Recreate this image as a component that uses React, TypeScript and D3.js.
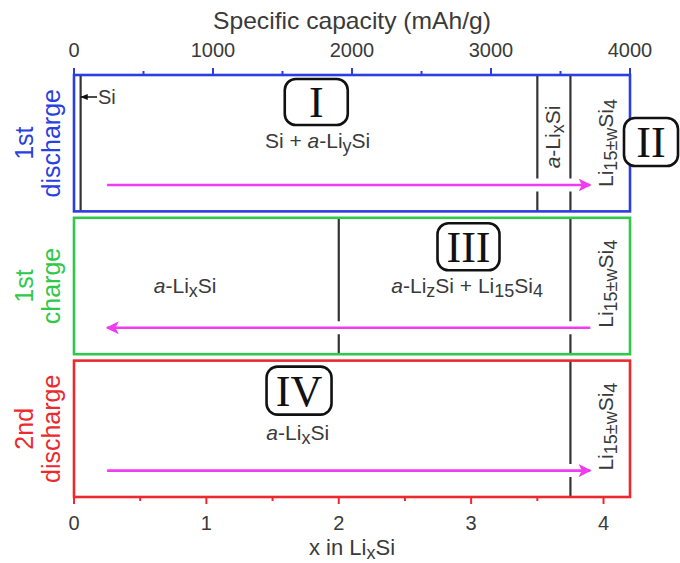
import React from "react";
import * as d3 from "d3";

// chart data
const capacityTicks = [0, 1000, 2000, 3000, 4000];
const capacityMinorTicks = [500, 1500, 2500, 3500];
const xTicks = [0, 1, 2, 3, 4];
const xMinorTicks = [0.5, 1.5, 2.5, 3.5];
const stepNames = [["1st", "discharge"], ["1st", "charge"], ["2nd", "discharge"]];
const stepColors = ["#2b3fe0", "#2fc84a", "#ec2a2e"];
// phase boundaries (x in LixSi) for each step
const boundaries = [[0.05, 3.5, 3.75], [2, 3.75], [3.75]];
// arrow from / to (x in LixSi)
const arrows = [[0.25, 3.9], [3.9, 0.25], [0.25, 3.9]];

const width = 680;
const height = 563;
const ink = "#3a3a3a";
const magenta = "#f03cf0";
const sans = "'Liberation Sans', Arial, Helvetica, sans-serif";
const serif = "'Liberation Serif', 'Times New Roman', serif";

const x = d3.scaleLinear().domain([0, 4.2]).range([74, 630]);
const cap = d3.scaleLinear().domain([0, 4000]).range([74, 630]);
const y = d3.scaleBand<number>().domain([0, 1, 2]).range([75, 497]).paddingInner(0.045);

function RomanBox({ cx, cy, w, h, label }) {
  return (
    <g>
      <rect x={cx - w / 2} y={cy - h / 2} width={w} height={h} rx={11} fill="white" stroke="#111" strokeWidth={2.6} />
      <text x={cx} y={cy + 15} textAnchor="middle" fontFamily={serif} fontSize={44} fill="#111">
        {label}
      </text>
    </g>
  );
}

function Li15({ cx, cy }) {
  return (
    <text transform={`translate(${cx},${cy}) rotate(-90)`} textAnchor="middle" dy="0.35em" fontFamily={sans} fontSize={21} fill={ink}>
      Li<tspan fontSize={18} dy={4}>15±w</tspan><tspan dy={-4}>Si</tspan><tspan fontSize={18} dy={4}>4</tspan>
    </text>
  );
}

export default function App() {
  const top = (i) => y(i) as number;
  const bw = y.bandwidth();

  return (
    <svg width={width} height={height} style={{ position: "absolute", left: 0, top: 0, background: "white" }}>
      <defs>
        <marker id="head" viewBox="0 0 10 10" refX="9" refY="5" markerWidth="5" markerHeight="5" orient="auto-start-reverse">
          <path d="M0,0 L10,5 L0,10 L2.5,5 Z" fill={magenta} />
        </marker>
        <marker id="headk" viewBox="0 0 10 10" refX="9" refY="5" markerWidth="5" markerHeight="5" orient="auto">
          <path d="M0,1 L10,5 L0,9 Z" fill="#111" />
        </marker>
      </defs>

      {/* top axis */}
      <text x={(cap(0) + cap(4000)) / 2} y={29} textAnchor="middle" fontFamily={sans} fontSize={24} fill={ink}
        textLength={278} lengthAdjust="spacingAndGlyphs">
        Specific capacity (mAh/g)
      </text>
      {capacityTicks.map((t) => (
        <g key={t}>
          <line x1={cap(t)} x2={cap(t)} y1={top(0)} y2={top(0) - 7} stroke={stepColors[0]} strokeWidth={2} />
          <text x={cap(t)} y={57} textAnchor="middle" fontFamily={sans} fontSize={20} fill={ink}>{t}</text>
        </g>
      ))}
      {capacityMinorTicks.map((t) => (
        <line key={t} x1={cap(t)} x2={cap(t)} y1={top(0)} y2={top(0) - 4} stroke={stepColors[0]} strokeWidth={2} />
      ))}

      {/* bottom axis */}
      {xTicks.map((t) => (
        <g key={t}>
          <line x1={x(t)} x2={x(t)} y1={top(2) + bw} y2={top(2) + bw + 7} stroke={stepColors[2]} strokeWidth={2} />
          <text x={x(t)} y={530} textAnchor="middle" fontFamily={sans} fontSize={20} fill={ink}>{t}</text>
        </g>
      ))}
      {xMinorTicks.map((t) => (
        <line key={t} x1={x(t)} x2={x(t)} y1={top(2) + bw} y2={top(2) + bw + 4} stroke={stepColors[2]} strokeWidth={2} />
      ))}
      <text x={(x(0) + x(4.2)) / 2} y={555} textAnchor="middle" fontFamily={sans} fontSize={22} fill={ink}>
        x in Li<tspan fontSize={18} dy={4}>x</tspan><tspan dy={-4}>Si</tspan>
      </text>

      {stepNames.map((names, i) => {
        const t = top(i);
        const cy = t + bw / 2;
        return (
          <g key={i}>
            {/* step label */}
            <text transform={`translate(24,${cy}) rotate(-90)`} textAnchor="middle" dy="0.35em" fontFamily={sans} fontSize={25} fill={stepColors[i]}>
              {names[0]}
            </text>
            <text transform={`translate(51,${cy}) rotate(-90)`} textAnchor="middle" dy="0.35em" fontFamily={sans} fontSize={25} fill={stepColors[i]}>
              {names[1]}
            </text>
            {/* phase boundaries */}
            {boundaries[i].map((b) => (
              <line key={b} x1={x(b)} x2={x(b)} y1={t} y2={t + bw} stroke="#333" strokeWidth={2.2} />
            ))}
            {/* arrow with white gap */}
            <line x1={x(Math.min(...arrows[i])) + 12} x2={x(Math.max(...arrows[i])) - 12} y1={t + 110} y2={t + 110} stroke="white" strokeWidth={13} />
            <line x1={x(arrows[i][0])} x2={x(arrows[i][1])} y1={t + 110} y2={t + 110} stroke={magenta} strokeWidth={2.6} markerEnd="url(#head)" />
            <rect x={x(0)} y={t} width={x(4.2) - x(0)} height={bw} fill="none" stroke={stepColors[i]} strokeWidth={2.6} />
            <Li15 cx={606} cy={t + (i === 0 ? 68 : 66)} />
          </g>
        );
      })}

      {/* step 1 annotations */}
      <line x1={97} x2={81} y1={top(0) + 22} y2={top(0) + 22} stroke="#111" strokeWidth={1.5} markerEnd="url(#headk)" />
      <text x={98} y={top(0) + 29} fontFamily={sans} fontSize={20} fill={ink}>Si</text>
      <RomanBox cx={x(1.83)} cy={top(0) + 27} w={63} h={46} label="I" />
      <text x={x(1.84)} y={top(0) + 73} textAnchor="middle" fontFamily={sans} fontSize={21} fill={ink}>
        Si + <tspan fontStyle="italic">a</tspan>-Li<tspan fontSize={18} dy={4}>y</tspan><tspan dy={-4}>Si</tspan>
      </text>
      <text transform={`translate(${(x(3.5) + x(3.75)) / 2 - 1},${top(0) + 62}) rotate(-90)`} textAnchor="middle" dy="0.35em" fontFamily={sans} fontSize={21} fill={ink}>
        <tspan fontStyle="italic">a</tspan>-Li<tspan fontSize={18} dy={4}>x</tspan><tspan dy={-4}>Si</tspan>
      </text>
      <RomanBox cx={651} cy={top(0) + 67} w={54} h={48} label="II" />

      {/* step 2 annotations */}
      <RomanBox cx={x(2.98)} cy={top(1) + 29} w={62} h={47} label="III" />
      <text x={x(0.84)} y={top(1) + 75} textAnchor="middle" fontFamily={sans} fontSize={21} fill={ink}>
        <tspan fontStyle="italic">a</tspan>-Li<tspan fontSize={18} dy={4}>x</tspan><tspan dy={-4}>Si</tspan>
      </text>
      <text x={x(2.97)} y={top(1) + 75} textAnchor="middle" fontFamily={sans} fontSize={21} fill={ink}>
        <tspan fontStyle="italic">a</tspan>-Li<tspan fontSize={18} dy={4}>z</tspan><tspan dy={-4}>Si + Li</tspan>
        <tspan fontSize={18} dy={4}>15</tspan><tspan dy={-4}>Si</tspan><tspan fontSize={18} dy={4}>4</tspan>
      </text>

      {/* step 3 annotations */}
      <RomanBox cx={x(1.7)} cy={top(2) + 30} w={65} h={48} label="IV" />
      <text x={x(1.69)} y={top(2) + 79} textAnchor="middle" fontFamily={sans} fontSize={21} fill={ink}>
        <tspan fontStyle="italic">a</tspan>-Li<tspan fontSize={18} dy={4}>x</tspan><tspan dy={-4}>Si</tspan>
      </text>
    </svg>
  );
}
